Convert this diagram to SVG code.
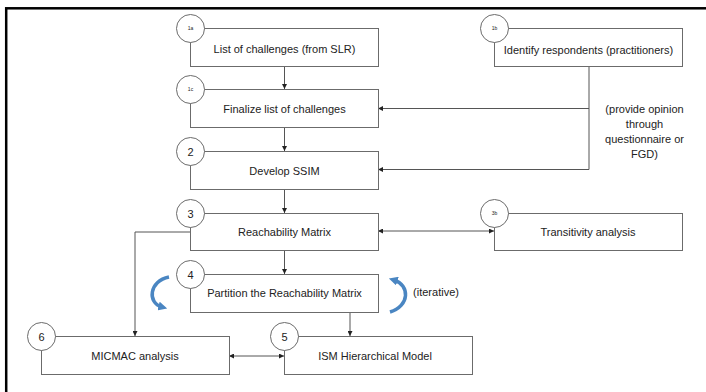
<svg xmlns="http://www.w3.org/2000/svg" width="706" height="392" viewBox="0 0 706 392">
<defs>
<style>
.box{fill:#fff;stroke:#6b6b6b;stroke-width:1}
.circ{fill:#fff;stroke:#6b6b6b;stroke-width:1}
.t{font-family:"Liberation Sans",Arial,sans-serif;font-size:11px;fill:#222;text-anchor:middle}
.num{font-family:"Liberation Sans",Arial,sans-serif;font-size:11px;fill:#222;text-anchor:middle}
.sm{font-family:"Liberation Sans",Arial,sans-serif;font-size:5px;fill:#222;text-anchor:middle}
.ln{fill:none;stroke:#555;stroke-width:1}
.it{fill:none;stroke:#4a86c2;stroke-width:3.5;stroke-linecap:butt}
</style>
<marker id="ah" viewBox="0 0 10 10" refX="10" refY="5" markerWidth="5" markerHeight="5" orient="auto-start-reverse" markerUnits="userSpaceOnUse">
<path d="M0,0 L10,5 L0,10 z" fill="#222"/>
</marker>
<marker id="bh" viewBox="0 0 10 10" refX="4" refY="5" markerWidth="9" markerHeight="9" orient="auto" markerUnits="userSpaceOnUse">
<path d="M0,0 L10,5 L0,10 z" fill="#4a86c2"/>
</marker>
</defs>
<rect width="706" height="392" fill="#fff"/>
<rect x="6.2" y="8.3" width="720" height="400" fill="none" stroke="#000" stroke-width="2.5"/>

<g id="connectors">
<path class="ln" d="M284.5,66 V89" marker-end="url(#ah)"/>
<path class="ln" d="M284.5,127 V151" marker-end="url(#ah)"/>
<path class="ln" d="M284.5,189 V213" marker-end="url(#ah)"/>
<path class="ln" d="M284.5,250 V274" marker-end="url(#ah)"/>
<path class="ln" d="M350,312 V336" marker-end="url(#ah)"/>
<path class="ln" d="M589,66 V169.5 H378" marker-end="url(#ah)"/>
<path class="ln" d="M589,108.5 H378" marker-end="url(#ah)"/>
<path class="ln" d="M378,231 H494" marker-start="url(#ah)" marker-end="url(#ah)"/>
<path class="ln" d="M190,232 H135 V336" marker-end="url(#ah)"/>
<path class="ln" d="M229,356 H284" marker-start="url(#ah)" marker-end="url(#ah)"/>
<path class="it" d="M169,277 C149,281 147,303 162,307" marker-end="url(#bh)"/>
<path class="it" d="M390,312 C410,306 410,285 394,280" marker-end="url(#bh)"/>
</g>

<g id="n1a">
<rect class="box" x="190.5" y="28.5" width="188" height="38"/>
<circle class="circ" cx="190.5" cy="28.5" r="14"/>
<text class="sm" x="190.5" y="30.2">1a</text>
<text class="t" x="284.5" y="53">List of challenges (from SLR)</text>
</g>
<g id="n1b">
<rect class="box" x="494.5" y="28.5" width="188" height="38"/>
<circle class="circ" cx="494.5" cy="28.5" r="14"/>
<text class="sm" x="494.5" y="30.2">1b</text>
<text class="t" x="588.5" y="54">Identify respondents (practitioners)</text>
</g>
<g id="n1c">
<rect class="box" x="190.5" y="89.5" width="188" height="38"/>
<circle class="circ" cx="190.5" cy="89.5" r="14"/>
<text class="sm" x="190.5" y="91.2">1c</text>
<text class="t" x="284.5" y="113">Finalize list of challenges</text>
</g>
<g id="n2">
<rect class="box" x="190.5" y="151.5" width="188" height="38"/>
<circle class="circ" cx="190.5" cy="151.5" r="14"/>
<text class="num" x="190.5" y="155.5">2</text>
<text class="t" x="284.5" y="174.5">Develop SSIM</text>
</g>
<g id="n3">
<rect class="box" x="190.5" y="213.5" width="188" height="37"/>
<circle class="circ" cx="190.5" cy="213.5" r="14"/>
<text class="num" x="190.5" y="217.5">3</text>
<text class="t" x="284.5" y="236">Reachability Matrix</text>
</g>
<g id="n3b">
<rect class="box" x="494.5" y="213.5" width="188" height="37"/>
<circle class="circ" cx="494.5" cy="213.5" r="14"/>
<text class="sm" x="494.5" y="215.2">3b</text>
<text class="t" x="588" y="236">Transitivity analysis</text>
</g>
<g id="n4">
<rect class="box" x="190.5" y="274.5" width="188" height="38"/>
<circle class="circ" cx="190.5" cy="274.5" r="14"/>
<text class="num" x="190.5" y="278.5">4</text>
<text class="t" x="284.5" y="297">Partition the Reachability Matrix</text>
</g>
<g id="n6">
<rect class="box" x="41.5" y="336.5" width="188" height="38"/>
<circle class="circ" cx="41.5" cy="336.5" r="14"/>
<text class="num" x="41.5" y="340.5">6</text>
<text class="t" x="135" y="360">MICMAC analysis</text>
</g>
<g id="n5">
<rect class="box" x="284.5" y="336.5" width="188" height="38"/>
<circle class="circ" cx="284.5" cy="336.5" r="14"/>
<text class="num" x="284.5" y="340.5">5</text>
<text class="t" x="375" y="360">ISM Hierarchical Model</text>
</g>

<g id="labels">
<text class="t" x="644.5" y="113">(provide opinion</text>
<text class="t" x="644.5" y="128">through</text>
<text class="t" x="644.5" y="143">questionnaire or</text>
<text class="t" x="644.5" y="158">FGD)</text>
<text class="t" x="436" y="296" style="text-anchor:middle">(iterative)</text>
</g>
</svg>
